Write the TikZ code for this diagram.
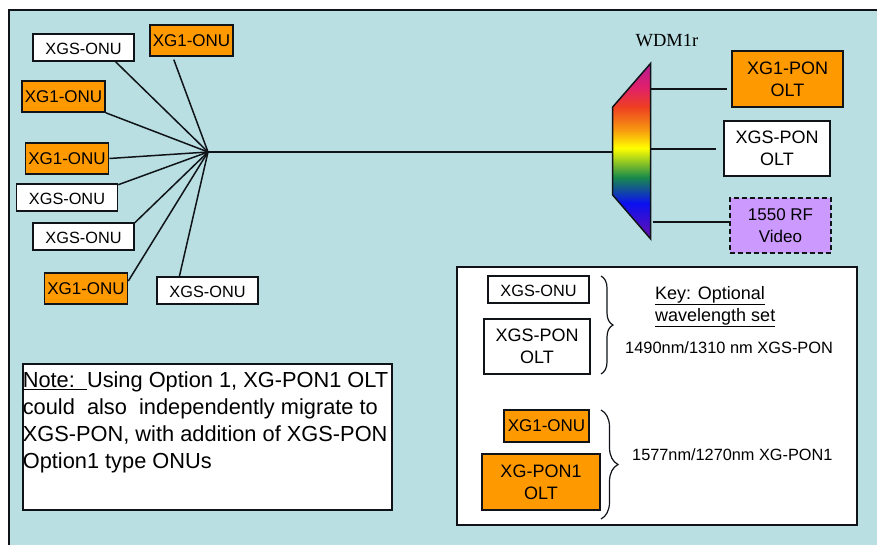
\documentclass[tikz,border=0pt]{standalone}
\usepackage{fontspec}
\setmainfont{Liberation Sans}
\newfontfamily\wdmfont{Liberation Serif}
\usetikzlibrary{decorations.pathreplacing}

\definecolor{panelblue}{HTML}{B9DFE3}
\definecolor{xgorange}{HTML}{FF9900}
\definecolor{rfpurple}{HTML}{CC99FF}
\definecolor{edgedark}{HTML}{101418}
\definecolor{wdmviolet}{HTML}{6A10B0}
\definecolor{wdmblue}{HTML}{0A10F0}
\definecolor{wdmgreen}{HTML}{1A8A4A}
\definecolor{wdmyellow}{HTML}{FFFF00}
\definecolor{wdmorange}{HTML}{F79A10}
\definecolor{wdmred}{HTML}{EE4020}
\definecolor{wdmpink}{HTML}{E0206A}
\definecolor{wdmmagenta}{HTML}{B81A96}

\pgfdeclareverticalshading{wdmrainbow}{100bp}{
	color(0bp)=(wdmviolet);
	color(25.3bp)=(wdmviolet);
	color(35.2bp)=(wdmblue);
	color(42.6bp)=(wdmgreen);
	color(50.9bp)=(wdmyellow);
	color(56bp)=(wdmorange);
	color(62.5bp)=(wdmred);
	color(68.2bp)=(wdmpink);
	color(75bp)=(wdmmagenta);
	color(100bp)=(wdmmagenta)}

\begin{document}
\begin{tikzpicture} [
	x=1pt, y=-1pt, % one unit is one pixel of the layout, y runs downwards
	link/.style={line width=1.5pt, edgedark},
	box/.style={draw=edgedark, line width=1.6pt, inner sep=0pt, align=center, text=black},
	xgsonu/.style={box, fill=white, minimum width=101pt, minimum height=27pt, font=\fontsize{16.3}{20}\selectfont, text height=14.5pt, text depth=0pt},
	xgonu/.style={box, fill=xgorange, minimum width=83pt, minimum height=31pt, font=\fontsize{17}{20}\selectfont},
	oltbox/.style={box, font=\fontsize{18}{22}\selectfont}, % two line boxes
	keytext/.style={anchor=base west, inner sep=0pt, text=black},
	keybrace/.style={decorate, decoration={brace, amplitude=12pt}, line width=1.2pt, edgedark},
	]
	\useasboundingbox (0,0) rectangle (877,545);
	\fill[panelblue] (9,10) rectangle (877,545);
	\draw[edgedark, line width=1.3pt] (877,10) -- (9,10) -- (9,545);

	% ONUs on the left
	\node[xgsonu] (onu1) at (83.5,47.5) {XGS-ONU};
	\node[xgonu] (onu2) at (191.5,40.5) {XG1-ONU};
	\node[xgonu] (onu3) at (63.5,96.5) {XG1-ONU};
	\node[xgonu] (onu4) at (67,158.5) {XG1-ONU};
	\node[xgsonu] (onu5) at (67,197.5) {XGS-ONU};
	\node[xgsonu] (onu6) at (83.5,236.5) {XGS-ONU};
	\node[xgonu] (onu7) at (86,288.5) {XG1-ONU};
	\node[xgsonu] (onu8) at (207.5,290.5) {XGS-ONU};
	\coordinate (hub) at (208,152);

	% WDM filter
	\coordinate (wdmnw) at (612.7,107);
	\coordinate (wdmne) at (650.7,63.3);
	\coordinate (wdmse) at (650.7,239);
	\coordinate (wdmsw) at (612.7,195);
	\coordinate (wdmin) at (612.7,152);
	\coordinate (wdm1) at (650.7,89);
	\coordinate (wdm2) at (650.7,149);
	\coordinate (wdm3) at (652.5,222);
	\draw[shading=wdmrainbow, draw=edgedark, line width=1.5pt] (wdmnw) -- (wdmne) -- (wdmse) -- (wdmsw) -- cycle;
	\node[anchor=base, inner sep=0pt, font=\wdmfont\fontsize{18.5}{22}\selectfont] (wdmlabel) at (667,47) {WDM1r};

	% boxes at the OLT side
	\node[oltbox, fill=xgorange, minimum width=111pt, minimum height=56pt] (olt1) at (787.5,79) {XG1-PON\\OLT};
	\node[oltbox, fill=white, minimum width=106pt, minimum height=55pt] (olt2) at (777,148.5) {XGS-PON\\OLT};
	\node[oltbox, fill=rfpurple, dash pattern=on 5pt off 3pt, minimum width=101pt, minimum height=55pt, font=\fontsize{17}{22}\selectfont] (video) at (780.5,225.5) {1550 RF\\Video};

	\draw[link]
		(hub) edge (wdmin)
		(hub) edge (onu1.-24.6)
		(hub) edge[shorten >=3pt] (onu2.221.5)
		(hub) edge (onu3.south east)
		(hub) edge (onu4.east)
		(hub) edge (onu5.14)
		(hub) edge (onu6.15.6)
		(hub) edge (onu7.10.1)
		(hub) edge (onu8.153.9)

		(wdm1) edge[shorten >=4pt] (olt1.west |- wdm1)
		(wdm2) edge[shorten >=7pt] (olt2.west |- wdm2)
		(wdm3) edge (video.west |- wdm3)
	;

	% key
	\node[box, fill=white, minimum width=400pt, minimum height=258pt] (keyframe) at (657,396) {};
	\node[xgsonu] (keyonu1) at (538.5,289.5) {XGS-ONU};
	\node[oltbox, fill=white, minimum width=106pt, minimum height=55pt] (keyolt1) at (537,346.5) {XGS-PON\\OLT};
	\node[xgonu, minimum width=85pt, minimum height=32pt] (keyonu2) at (546.5,426) {XG1-ONU};
	\node[oltbox, fill=xgorange, minimum width=118pt, minimum height=56pt] (keyolt2) at (541,482) {XG-PON1\\OLT};

	\coordinate (brace1a) at (601,276);
	\coordinate (brace1b) at (601,374);
	\coordinate (brace2a) at (601,410);
	\coordinate (brace2b) at (601,519);
	\draw[keybrace] (brace1a) -- (brace1b);
	\draw[keybrace, decoration={amplitude=17pt}] (brace2a) -- (brace2b);

	\node[keytext, font=\fontsize{18}{22}\selectfont] (keytitle1) at (655,299) {\underline{Key: Optional}};
	\node[keytext, font=\fontsize{18}{22}\selectfont] (keytitle2) at (655,321) {\underline{wavelength set}};
	\node[keytext, font=\fontsize{16.4}{20}\selectfont] (keyset1) at (625,353) {1490nm/1310 nm XGS-PON};
	\node[keytext, font=\fontsize{16.3}{20}\selectfont] (keyset2) at (632,460) {1577nm/1270nm XG-PON1};

	% note
	\node[box, fill=white, anchor=north west, align=left] (note) at (22,363) {\parbox[t][146pt][t]{369pt}{\fontsize{21.8}{27}\selectfont\vspace*{8pt}\underline{Note:\ \ }Using Option 1, XG-PON1 OLT\\could\ \ also\ \ independently migrate to\\XGS-PON, with addition of XGS-PON\\Option1 type ONUs}};
\end{tikzpicture}
\end{document}
